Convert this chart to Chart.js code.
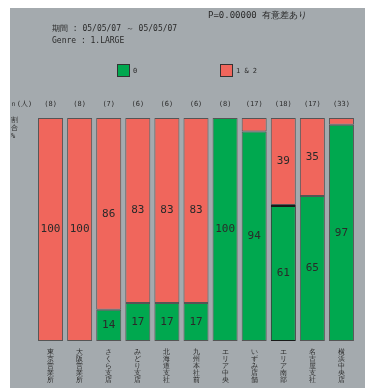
<!DOCTYPE html>
<html lang="ja">
<head>
    <meta charset="UTF-8">
    <title>割合グラフ</title>
    <script src="https://cdn.jsdelivr.net/npm/chart.js"></script>
    <style>
        body {
            margin: 0;
            background-color: #ffffff;
        }
        #myChart {
            position: absolute;
            left: 10px;
            top: 8px;
            background-color: #a4aaae;
        }
    </style>
</head>
<body>
    <canvas id="myChart" width="355" height="380"></canvas>

    <script>
        // datos del gráfico
        const categories = ['東京営業所', '大阪営業所', 'さくら支店', 'みどり支店', '北海道支社',
                            '九州本社前', 'エリア中央', 'いずみ店舗', 'エリア南部', '名古屋支社', '横浜中央店'];
        const counts = ['(8)', '(8)', '(7)', '(6)', '(6)', '(6)', '(8)', '(17)', '(18)', '(17)', '(33)'];
        const green0 = [0, 0, 14, 17, 17, 17, 100, 94, 61, 65, 97];
        const red12 = [100, 100, 86, 83, 83, 83, 0, 6, 39, 35, 3];
        const legendLabels = ['0', '1 & 2'];

        const GREEN = '#00a84f';
        const RED = '#f0665c';
        const TXT = '#2a2a2a';
        const MONO = '"DejaVu Sans Mono", monospace';

        // textos, leyenda y etiquetas
        const extras = {
            id: 'extras',
            afterDraw(chart) {
                const ctx = chart.ctx;
                const x = chart.scales.x;
                ctx.save();
                ctx.fillStyle = TXT;
                ctx.textBaseline = 'middle';

                ctx.textAlign = 'left';
                ctx.font = '9px ' + MONO;
                ctx.fillText('P=0.00000 有意差あり', 198, 8);
                ctx.font = '8px ' + MONO;
                ctx.fillText('期間 : 05/05/07 ～ 05/05/07', 42, 21);
                ctx.fillText('Genre : 1.LARGE', 42, 33);

                // leyenda
                const items = [[107, GREEN], [210, RED]];
                items.forEach((it, i) => {
                    ctx.fillStyle = it[1];
                    ctx.fillRect(it[0], 56, 12, 13);
                    ctx.strokeStyle = '#333';
                    ctx.lineWidth = 1;
                    ctx.strokeRect(it[0] + 0.5, 56.5, 12, 12);
                    ctx.fillStyle = TXT;
                    ctx.font = '7px ' + MONO;
                    ctx.fillText(legendLabels[i], it[0] + 16, 63);
                });

                // fila de n
                ctx.font = '7px ' + MONO;
                ctx.textAlign = 'center';
                ctx.fillText('ｎ(人)', 11, 96);
                counts.forEach((c, i) => {
                    ctx.fillText(c, x.getPixelForValue(i), 96);
                });
                ctx.textAlign = 'left';
                ['割', '合', '%'].forEach((ch, i) => {
                    ctx.fillText(ch, 1, 112 + i * 8);
                });

                // valores dentro de las barras
                ctx.font = '11px ' + MONO;
                ctx.textAlign = 'center';
                chart.data.datasets.forEach((ds, di) => {
                    chart.getDatasetMeta(di).data.forEach((bar, i) => {
                        const v = ds.data[i];
                        if (v < 10) return;
                        const p = bar.getProps(['x', 'y', 'base'], true);
                        ctx.fillText(String(v), p.x, (p.y + p.base) / 2);
                    });
                });
                ctx.restore();
            }
        };

        const ctx = document.getElementById('myChart').getContext('2d');
        new Chart(ctx, {
            type: 'bar',
            data: {
                labels: categories.map(s => s.split('')),
                datasets: [{
                    label: legendLabels[0],
                    data: green0,
                    backgroundColor: GREEN,
                    borderColor: c => c.dataIndex === 8 ? '#1a1a1a' : '#555',
                    borderWidth: c => c.dataIndex === 8 ? {top: 2, left: 1, right: 1, bottom: 1} : 1,
                    borderSkipped: false
                }, {
                    label: legendLabels[1],
                    data: red12,
                    backgroundColor: RED,
                    borderColor: '#555',
                    borderWidth: 1,
                    borderSkipped: false
                }]
            },
            options: {
                responsive: false,
                animation: false,
                devicePixelRatio: 1,
                layout: {
                    padding: {top: 110, left: 26, right: 9, bottom: 0}
                },
                datasets: {
                    bar: {categoryPercentage: 1, barPercentage: 0.86}
                },
                scales: {
                    x: {
                        stacked: true,
                        grid: {display: false},
                        border: {display: false},
                        afterFit: s => { s.height = 47; },
                        ticks: {
                            color: TXT,
                            autoSkip: false,
                            maxRotation: 0,
                            minRotation: 0,
                            padding: 0,
                            font: {family: MONO, size: 7, lineHeight: 1}
                        }
                    },
                    y: {
                        stacked: true,
                        display: false,
                        min: 0,
                        max: 100
                    }
                },
                plugins: {
                    legend: {display: false},
                    tooltip: {enabled: false}
                }
            },
            plugins: [extras]
        });
    </script>
</body>
</html>
